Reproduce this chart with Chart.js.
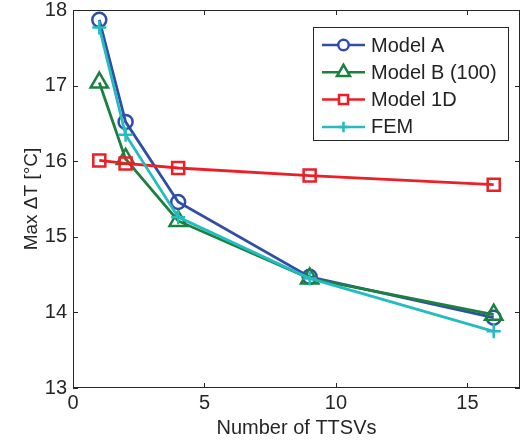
<!DOCTYPE html>
<html>
<head>
<meta charset="utf-8">
<script src="https://cdn.jsdelivr.net/npm/chart.js@4"></script>
<style>
  body { margin: 0; background: #fff; }
  #wrap { width: 528px; height: 443px; }
</style>
</head>
<body>
<div id="wrap"><canvas id="chart" width="528" height="443"></canvas></div>
<script>
let xValues = [1, 2, 4, 9, 16];

let modelA = [17.87, 16.52, 15.46, 14.47, 13.93];
let modelB = [17.04, 16.03, 15.21, 14.45, 13.97];
let model1D = [16.01, 15.97, 15.91, 15.81, 15.69];
let femValues = [17.77, 16.35, 15.26, 14.45, 13.75];

let seriesLabels = ["Model A", "Model B (100)", "Model 1D", "FEM"];
let seriesColors = ["rgb(47, 78, 166)", "rgb(28, 128, 64)", "rgb(236, 30, 38)", "rgb(36, 188, 190)"];

let xTicks = [0, 5, 10, 15];
let yTicks = [13, 14, 15, 16, 17, 18];

let axisColor = "#262626";
let fontFamily = "'Liberation Sans', Arial, sans-serif";

function toPoints(vals) {
    return vals.map((v, i) => ({ x: xValues[i], y: v }));
}

/////////// INWARD TICKS + FRAME /////////////

let matlabAxes = {
    id: "matlabAxes",
    afterDatasetsDraw(chart) {
        let ctx = chart.ctx;
        let a = chart.chartArea;
        let xs = chart.scales.x;
        let ys = chart.scales.y;
        ctx.save();
        ctx.strokeStyle = axisColor;
        ctx.lineWidth = 1;
        ctx.strokeRect(a.left + 0.5, a.top + 0.5, a.right - a.left - 1, a.bottom - a.top - 1);
        ctx.beginPath();
        xTicks.forEach(v => {
            let px = Math.round(xs.getPixelForValue(v)) + 0.5;
            ctx.moveTo(px, a.bottom);
            ctx.lineTo(px, a.bottom - 5);
            ctx.moveTo(px, a.top);
            ctx.lineTo(px, a.top + 5);
        });
        yTicks.forEach(v => {
            let py = Math.round(ys.getPixelForValue(v)) + 0.5;
            ctx.moveTo(a.left, py);
            ctx.lineTo(a.left + 5, py);
            ctx.moveTo(a.right, py);
            ctx.lineTo(a.right - 5, py);
        });
        ctx.stroke();
        ctx.restore();
    },
};

/////////// LEGEND BOX /////////////

let boxLegend = {
    id: "boxLegend",
    afterDraw(chart) {
        let ctx = chart.ctx;
        let left = 313, top = 27, w = 195, h = 113;
        ctx.save();
        ctx.fillStyle = "#fff";
        ctx.fillRect(left, top, w, h);
        ctx.strokeStyle = axisColor;
        ctx.lineWidth = 1;
        ctx.strokeRect(left + 0.5, top + 0.5, w, h);
        ctx.font = "20px " + fontFamily;
        ctx.textBaseline = "middle";
        chart.data.datasets.forEach((ds, i) => {
            let y = top + 18 + i * 27.3;
            ctx.strokeStyle = ds.borderColor;
            ctx.lineWidth = 2.5;
            ctx.beginPath();
            ctx.moveTo(322, y);
            ctx.lineTo(365, y);
            ctx.stroke();
            ctx.fillStyle = "#fff"; // hollow markers like the plot
            Chart.helpers.drawPoint(ctx, {
                pointStyle: ds.pointStyle,
                radius: ds.pointRadius * 0.75,
                borderWidth: 2.5,
                rotation: 0,
            }, 343.5, y);
            ctx.fillStyle = "#222";
            ctx.fillText(ds.label, 371, y + 1);
        });
        ctx.restore();
    },
};

let datasets = [
    { label: seriesLabels[0], data: toPoints(modelA), borderColor: seriesColors[0], pointStyle: "circle", pointRadius: 7, order: 3 },
    { label: seriesLabels[1], data: toPoints(modelB), borderColor: seriesColors[1], pointStyle: "triangle", pointRadius: 10, order: 2 },
    { label: seriesLabels[2], data: toPoints(model1D), borderColor: seriesColors[2], pointStyle: "rect", pointRadius: 8.5, order: 1 },
    { label: seriesLabels[3], data: toPoints(femValues), borderColor: seriesColors[3], pointStyle: "cross", pointRadius: 7, order: 0 },
].map(ds => Object.assign(ds, {
    borderWidth: 2.8,
    pointBorderWidth: 2.5,
    pointBackgroundColor: "rgba(0,0,0,0)",
    pointBorderColor: ds.borderColor,
    backgroundColor: ds.borderColor,
    tension: 0,
    clip: false,
}));

let chart = new Chart(document.getElementById("chart"), {
    type: "line",
    data: { datasets: datasets },
    plugins: [matlabAxes, boxLegend],
    options: {
        responsive: false,
        animation: false,
        layout: { autoPadding: false, padding: { top: 10, right: 8, left: 0, bottom: 0 } },
        plugins: {
            legend: { display: false },
            tooltip: { enabled: false },
        },
        scales: {
            x: {
                type: "linear",
                min: 0,
                max: 17,
                afterBuildTicks: s => { s.ticks = xTicks.map(v => ({ value: v })); },
                afterFit: s => { s.height = 55; s.paddingLeft = 0; s.paddingRight = 0; },
                grid: { display: false, drawTicks: false },
                border: { display: false },
                ticks: { color: "#262626", padding: 3, font: { family: fontFamily, size: 20 } },
                title: {
                    display: true,
                    text: "Number of TTSVs",
                    color: "#262626",
                    padding: { top: 0, bottom: 3 },
                    font: { family: fontFamily, size: 20 },
                },
            },
            y: {
                type: "linear",
                min: 13,
                max: 18,
                afterBuildTicks: s => { s.ticks = yTicks.map(v => ({ value: v })); },
                afterFit: s => { s.width = 73; s.paddingTop = 0; s.paddingBottom = 0; },
                grid: { display: false, drawTicks: false },
                border: { display: false },
                ticks: { color: "#262626", padding: 6, font: { family: fontFamily, size: 20 } },
                title: {
                    display: true,
                    text: "Max ΔT [°C]",
                    color: "#262626",
                    padding: { top: 20, bottom: 0 },
                    font: { family: fontFamily, size: 19 },
                },
            },
        },
    },
});
</script>
</body>
</html>
